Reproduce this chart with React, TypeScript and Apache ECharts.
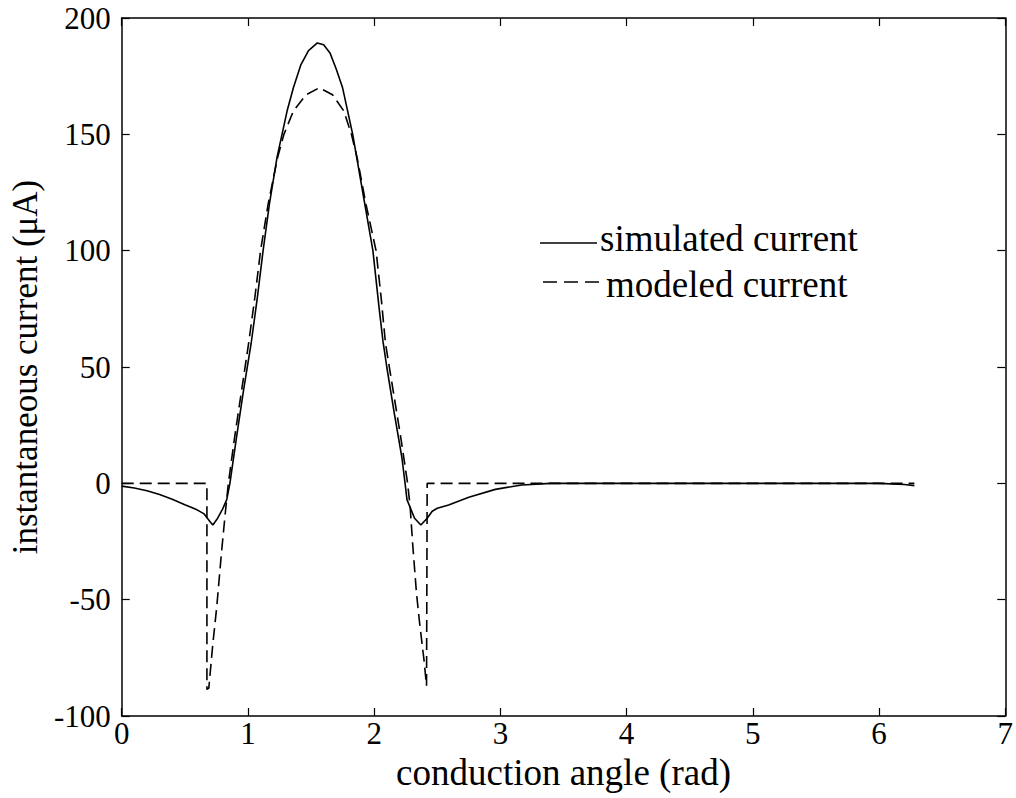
import React, { useEffect, useRef } from "react";
import * as echarts from "echarts";

const xTicks = [0, 1, 2, 3, 4, 5, 6, 7];
const yTicks = [-100, -50, 0, 50, 100, 150, 200];

const simulatedX = [0, 0.1, 0.2, 0.3, 0.4, 0.5, 0.55, 0.6, 0.65, 0.7, 0.722, 0.76, 0.8, 0.832, 0.857, 0.91, 0.965, 1.025, 1.075, 1.12, 1.17, 1.23, 1.27, 1.31, 1.36, 1.42, 1.48, 1.55, 1.6, 1.65, 1.7, 1.75, 1.79, 1.83, 1.91, 1.99, 2.04, 2.07, 2.1, 2.16, 2.22, 2.245, 2.26, 2.32, 2.37, 2.42, 2.46, 2.5, 2.59, 2.75, 2.96, 3.17, 3.4, 4.0, 5.0, 6.0, 6.2, 6.28];
const simulatedY = [-1.2, -2, -3.2, -4.8, -6.8, -9.2, -10.3, -11.5, -13, -16.5, -17.9, -15, -11, -7, 0, 20, 40, 60, 80, 100, 120, 140, 150, 160, 170, 180, 186, 189.3, 188.5, 185, 178, 170, 160, 150, 125, 100, 75, 61, 50, 30, 11, 0, -7, -15, -17.9, -15, -12, -10.7, -9.3, -6, -2.6, -0.7, 0, 0, 0, 0, -0.5, -1];

const modeledX = [0, 0.675, 0.675, 0.69, 0.72, 0.753, 0.79, 0.82, 0.845, 0.895, 0.95, 1.005, 1.055, 1.1, 1.16, 1.235, 1.285, 1.36, 1.46, 1.565, 1.67, 1.76, 1.82, 1.865, 1.935, 2.015, 2.055, 2.09, 2.15, 2.21, 2.265, 2.285, 2.305, 2.335, 2.36, 2.395, 2.415, 2.42, 2.42, 6.28];
const modeledY = [0, 0, -88.6, -88, -70, -53, -30, -13, 0, 20, 40, 60, 80, 100, 120, 140, 150, 160, 167, 170, 167, 160, 150, 140, 120, 100, 80, 60, 40, 20, 0, -10, -26, -47, -60, -76, -87, -87, 0, 0];

const legendNames = ["simulated current", "modeled current"];
const xTitle = "conduction angle (rad)";
const yTitle = "instantaneous current (\u03bcA)";

const FONT = "Liberation Serif";

export default function App() {
  const ref = useRef<HTMLDivElement>(null);
  useEffect(() => {
    if (!ref.current) return;
    const chart = echarts.init(ref.current, undefined, { renderer: "svg" });
    const sim = simulatedX.map((x, i) => [x, simulatedY[i]]);
    const mod = modeledX.map((x, i) => [x, modeledY[i]]);
    const axisLine = { show: true, onZero: false, lineStyle: { color: "#000", width: 1.5 } };
    const axisTick = { show: true, inside: true, length: 8, lineStyle: { color: "#000", width: 1.2 } };
    const labelStyle = { color: "#000", fontFamily: FONT, fontSize: 31 };
    chart.setOption({
      animation: false,
      backgroundColor: "#fff",
      grid: { left: 121, top: 18, right: 8, bottom: 82, containLabel: false },
      xAxis: [
        {
          type: "value", min: 0, max: 7, interval: 1, position: "bottom",
          axisLine, axisTick, splitLine: { show: false },
          axisLabel: { ...labelStyle, margin: 2 },
          name: xTitle, nameLocation: "middle", nameGap: 27,
          nameTextStyle: { color: "#000", fontFamily: FONT, fontSize: 37 },
        },
        {
          type: "value", min: 0, max: 7, interval: 1, position: "top",
          axisLine, axisTick, splitLine: { show: false }, axisLabel: { show: false },
        },
      ],
      yAxis: [
        {
          type: "value", min: -100, max: 200, interval: 50, position: "left",
          axisLine, axisTick, splitLine: { show: false },
          axisLabel: { ...labelStyle, margin: 11 },
          name: yTitle, nameLocation: "middle", nameGap: 64, nameRotate: 90,
          nameTextStyle: { color: "#000", fontFamily: FONT, fontSize: 35 },
        },
        {
          type: "value", min: -100, max: 200, interval: 50, position: "right",
          axisLine, axisTick, splitLine: { show: false }, axisLabel: { show: false },
        },
      ],
      series: [
        {
          name: legendNames[0], type: "line", data: sim, showSymbol: false,
          lineStyle: { color: "#000", width: 1.6 }, xAxisIndex: 0, yAxisIndex: 0,
        },
        {
          name: legendNames[1], type: "line", data: mod, showSymbol: false,
          lineStyle: { color: "#000", width: 1.6, type: [12, 6] }, xAxisIndex: 0, yAxisIndex: 0,
        },
      ],
      graphic: [
        { type: "line", shape: { x1: 540, y1: 243, x2: 597, y2: 243 }, style: { stroke: "#000", lineWidth: 1.6 } },
        { type: "text", x: 600, y: 238, style: { text: legendNames[0], fill: "#000", fontFamily: FONT, fontSize: 37, verticalAlign: "middle", align: "left" } },
        { type: "line", shape: { x1: 543, y1: 282, x2: 603, y2: 282 }, style: { stroke: "#000", lineWidth: 1.6, lineDash: [14, 7] } },
        { type: "text", x: 606, y: 284, style: { text: legendNames[1], fill: "#000", fontFamily: FONT, fontSize: 37, verticalAlign: "middle", align: "left" } },
      ],
    });
    return () => chart.dispose();
  }, []);
  return <div ref={ref} style={{ position: "fixed", left: 0, top: 0, width: 1016, height: 798 }} />;
}
